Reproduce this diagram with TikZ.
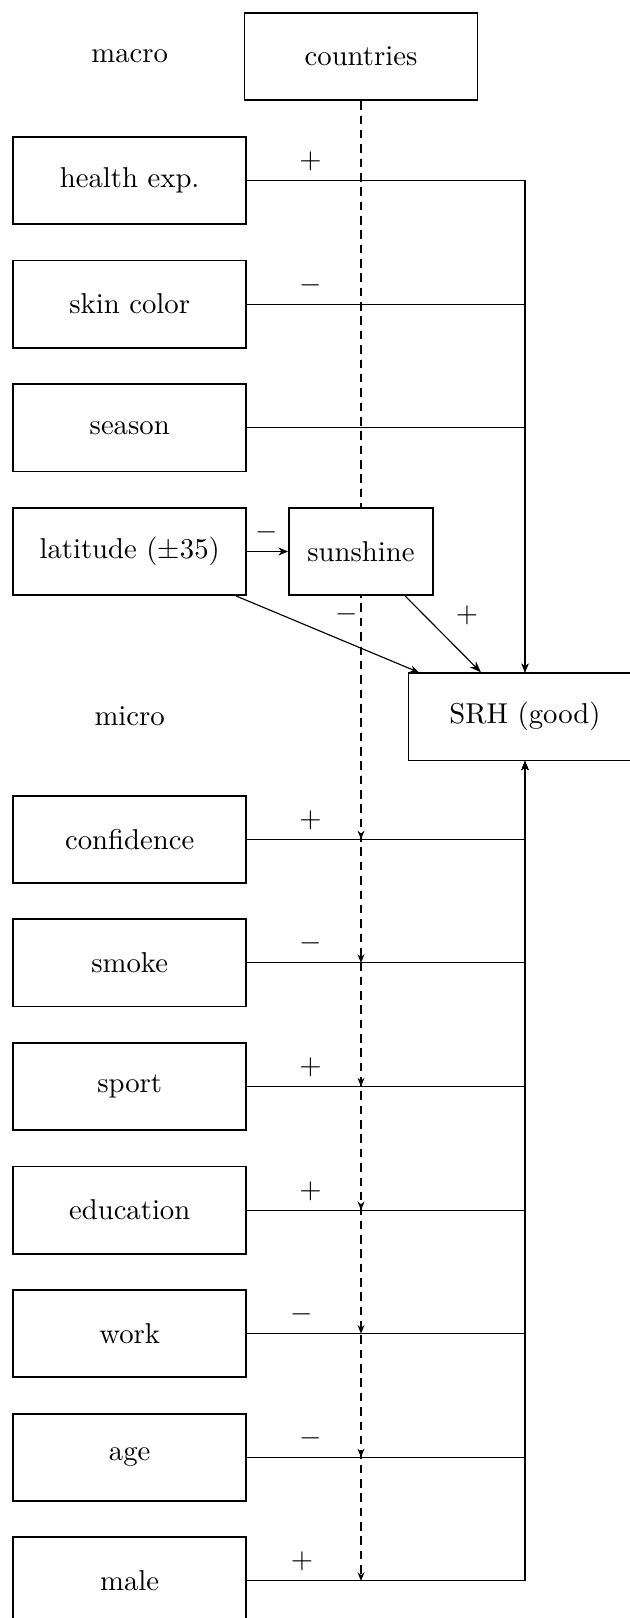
\documentclass[tikz,border=0pt]{standalone}
\usetikzlibrary{arrows.meta,backgrounds}
\begin{document}
\begin{tikzpicture}[x=0.3484pt,y=-0.3484pt,semithick,
  box/.style={draw,fill=white,minimum width=81.2pt,minimum height=30.4pt,inner sep=0pt},
  sbox/.style={box,minimum width=50.2pt},
  lbl/.style={inner sep=0pt,anchor=center},
  tip/.style={-{Stealth[length=3pt,width=2.4pt]}},
  conn/.style={tip},
  dsh/.style={tip,dash pattern=on 3pt off 2pt}]
\clip (0,0) rectangle (630,1618);
% macro level
\node (macro) at (129.7,56.7) {macro};
\node[box] (countries) at (361,56.7) {countries};
\node[box] (health) at (129.7,180.4) {health exp.};
\node[box] (skin) at (129.7,304.1) {skin color};
\node[box] (season) at (129.7,427.8) {season};
\node[box] (latitude) at (129.7,551.5) {latitude ($\pm35$)};
\node[sbox] (sunshine) at (361,551.5) {sunshine};
\node (micro) at (129.7,716.5) {micro};
\node[box] (SRH) at (525,716.8) {SRH (good)};
% micro level
\node[box] (confidence) at (129.7,839.3) {confidence};
\node[box] (smoke) at (129.7,962.9) {smoke};
\node[box] (sport) at (129.7,1086.5) {sport};
\node[box] (education) at (129.7,1210.1) {education};
\node[box] (work) at (129.7,1333.7) {work};
\node[box] (age) at (129.7,1457.3) {age};
\node[box] (male) at (129.7,1580.9) {male};
% dashed country-level arrows
\begin{pgfonlayer}{background}
\foreach \n in {confidence,smoke,sport,education,work,age,male}
  \draw[dsh] (countries.south) -- (countries.south |- \n.east);
\end{pgfonlayer}
% macro connectors
\foreach \n in {health,skin,season}
  \draw[conn] (\n.east) -| (SRH.north);
\draw[-{Stealth[length=3.4pt,width=2.8pt]}] (latitude) -- (sunshine);
\draw[thin,-{Stealth[length=3pt,width=2.4pt]}] (latitude) -- (SRH);
\draw[-{Stealth[length=4pt,width=3pt]}] (sunshine) -- (SRH);
% micro connectors
\foreach \n in {confidence,smoke,sport,education,work,age,male}
  \draw[conn] (\n.east) -| (SRH.south);
% sign labels
\node[lbl] (lh) at (310.5,161.3) {$+$};
\node[lbl] (ls) at (310.5,285) {$-$};
\node[lbl] (ll) at (267,532.4) {$-$};
\node[lbl] (lls) at (347,614) {$-$};
\node[lbl] (lss) at (467,615) {$+$};
\node[lbl] (lc) at (310.5,820.2) {$+$};
\node[lbl] (lsm) at (310.5,943.8) {$-$};
\node[lbl] (lsp) at (310.5,1067.4) {$+$};
\node[lbl] (led) at (310.5,1191) {$+$};
\node[lbl] (lw) at (302,1314.6) {$-$};
\node[lbl] (la) at (310.5,1438.2) {$-$};
\node[lbl] (lm) at (302,1561.8) {$+$};
\end{tikzpicture}
\end{document}
